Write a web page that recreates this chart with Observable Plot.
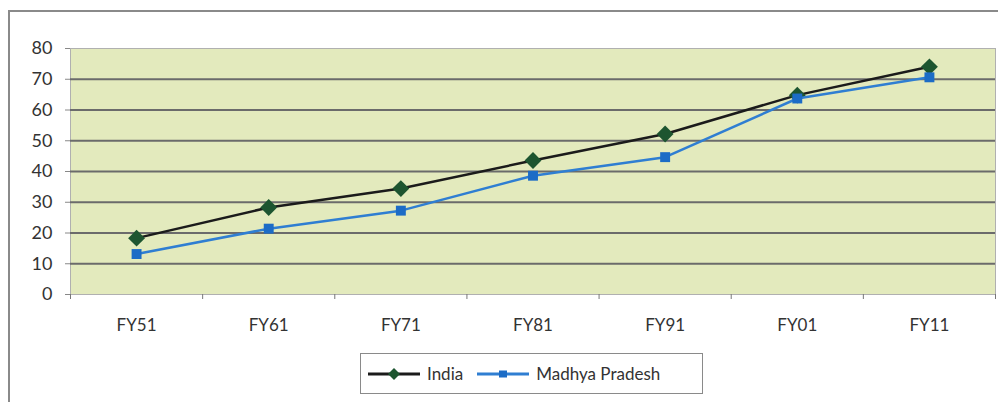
<!DOCTYPE html>
<html>
<head>
<meta charset="utf-8">
<script src="https://cdn.jsdelivr.net/npm/d3@7"></script>
<script src="https://cdn.jsdelivr.net/npm/@observablehq/plot@0.6"></script>
<style>
  html, body { margin: 0; padding: 0; background: #fff; width: 998px; height: 402px; overflow: hidden; }
  #outer { position: absolute; left: 8px; top: 10px; width: 1000px; height: 400px; border-left: 2px solid #8a8a8a; border-top: 2px solid #8a8a8a; box-sizing: border-box; }
  #chart { position: absolute; left: 0; top: 0; }
  #legend { position: absolute; left: 360px; top: 353px; width: 343px; height: 41px; box-sizing: border-box; border: 1.5px solid #8a8a8a; background: #fff;
    display: flex; align-items: center; font-family: Lato, "Open Sans", sans-serif; font-size: 17px; color: #333; }
  .item { display: flex; align-items: center; }
  .item svg { display: block; }
</style>
</head>
<body>
<div id="outer"></div>
<div id="chart"></div>
<div id="legend"></div>
<script>
const years = ["FY51", "FY61", "FY71", "FY81", "FY91", "FY01", "FY11"];
const india = [18.33, 28.3, 34.45, 43.57, 52.21, 64.83, 74.04];
const mp = [13.16, 21.41, 27.27, 38.63, 44.67, 63.74, 70.63];
const yTicks = [0, 10, 20, 30, 40, 50, 60, 70, 80];
const gridValues = [10, 20, 30, 40, 50, 60, 70];
const seriesNames = ["India", "Madhya Pradesh"];
const lineColors = ["#1b1b1b", "#2f7ed2"];
const markerColors = ["#1d5530", "#1c6cc6"];

const indiaRows = years.map((y, i) => ({i: i + 0.5, year: y, value: india[i]}));
const mpRows = years.map((y, i) => ({i: i + 0.5, year: y, value: mp[i]}));

const chart = Plot.plot({
  width: 998,
  height: 340,
  marginLeft: 70,
  marginRight: 3,
  marginTop: 48,
  marginBottom: 46,
  x: {domain: [0, years.length], axis: null, label: null},
  y: {domain: [0, 80], axis: null, label: null},
  style: {fontFamily: "Lato, 'Open Sans', sans-serif", fontSize: "18px", color: "#333", background: "transparent"},
  marks: [
    Plot.frame({fill: "#e3eabd", stroke: "#b0b0b0"}),
    Plot.gridY(gridValues, {stroke: "#6b6b6b", strokeWidth: 2, strokeOpacity: 1}),
    Plot.axisY(yTicks, {tickSize: 5, tickPadding: 13, stroke: "#888", fontSize: 18, label: null}),
    Plot.axisX(d3.range(years.length + 1), {tickSize: 5, tickFormat: () => "", stroke: "#777", label: null}),
    Plot.axisX(years.map((y, i) => i + 0.5), {tickSize: 0, tickPadding: 24, fontSize: 17, label: null, tickFormat: d => years[Math.floor(d)]}),
    Plot.line(indiaRows, {x: "i", y: "value", stroke: lineColors[0], strokeWidth: 2.5}),
    Plot.dot(indiaRows, {x: "i", y: "value", symbol: "diamond2", r: 7.6, fill: markerColors[0], stroke: "none"}),
    Plot.line(mpRows, {x: "i", y: "value", stroke: lineColors[1], strokeWidth: 2.5}),
    Plot.dot(mpRows, {x: "i", y: "value", symbol: "square", r: 5.6, fill: markerColors[1], stroke: "none"})
  ]
});
document.getElementById("chart").appendChild(chart);

// Legend
const legend = document.getElementById("legend");
const shapes = [
  '<polygon points="26,1 32,7 26,13 20,7" />',
  '<rect x="22" y="3.5" width="8" height="7" />'
];
seriesNames.forEach((name, k) => {
  const item = document.createElement("div");
  item.className = "item";
  item.style.marginLeft = k === 0 ? "7px" : "14px";
  item.innerHTML = `<svg width="52" height="14"><line x1="0" y1="7" x2="52" y2="7" stroke="${lineColors[k]}" stroke-width="3"/>` +
    `<g fill="${markerColors[k]}">${shapes[k]}</g></svg><span style="margin-left:7px">${name}</span>`;
  legend.appendChild(item);
});
</script>
</body>
</html>
